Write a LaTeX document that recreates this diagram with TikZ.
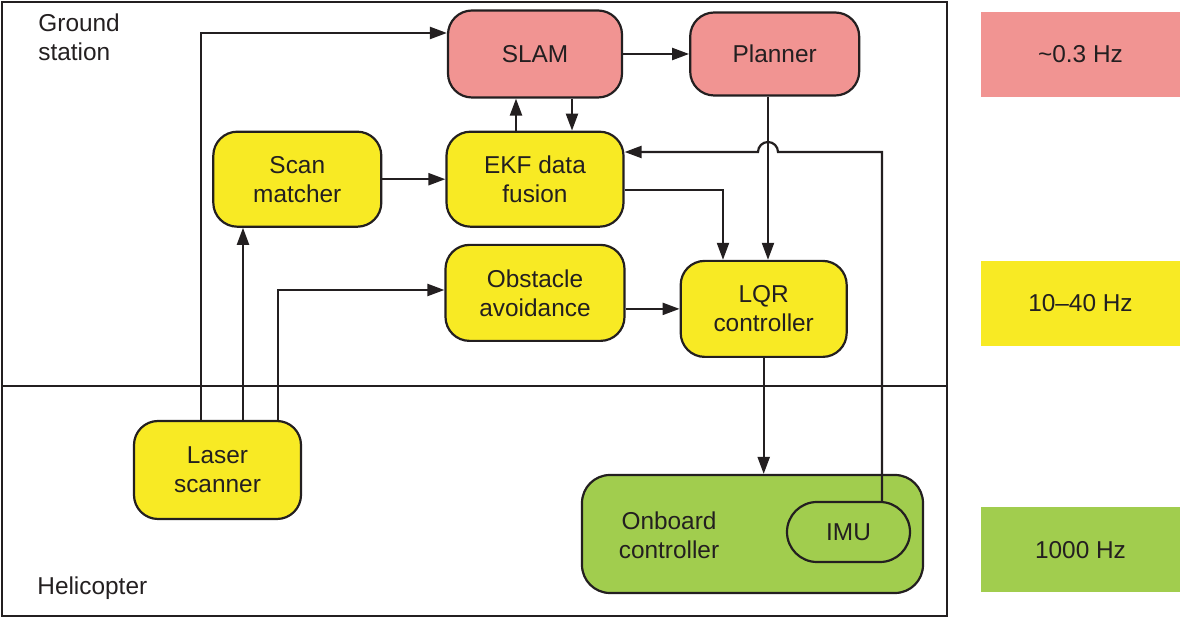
\documentclass[tikz,border=0pt]{standalone}
\usepackage{fontspec}
\setmainfont{Liberation Sans}
\usetikzlibrary{positioning, arrows.meta}

\definecolor{slowred}{RGB}{241,148,146}
\definecolor{midyellow}{RGB}{248,234,36}
\definecolor{fastgreen}{RGB}{161,205,78}
\definecolor{inkgray}{RGB}{35,31,32}

\begin{document}
\begin{tikzpicture}[
    x=0.5pt, y=-0.5pt,% one unit per pixel, y downwards
    color=inkgray,
    font=\fontsize{12.2}{14.5}\selectfont,
    node distance = 8pt and 31.5pt,% for distance between blocks
    >={Triangle[length=8.5pt,width=6pt]},
       blk/.style = {draw, line width=1.1pt, rounded corners=12pt, align=center, inner sep=0pt},% block style
      slow/.style = {blk, fill=slowred},
       mid/.style = {blk, fill=midyellow},
      fast/.style = {blk, fill=fastgreen},
      rate/.style = {fill=#1, minimum width=99.5pt, minimum height=42.5pt, inner sep=0pt},
      link/.style = {->, line width=1.1pt}
    ]
    \useasboundingbox (0,0) rectangle (1180,619);

    % ground station / helicopter frame
    \draw[line width=1.1pt] (2,2) rectangle (947,616);
    \draw[line width=1.1pt] (2,386) -- (947,386);
    \node (gs) [anchor=west, align=left, inner xsep=0pt] at (38,37) {Ground\\station};
    \node (heli) [anchor=west, inner xsep=0pt] at (37,588) {Helicopter};

    % blocks
    \node (slam) [slow, minimum width=87pt, minimum height=43.5pt] at (535,54) {SLAM};
    \node (planner) [slow, minimum width=84.5pt, minimum height=41.5pt, right=33pt of slam] {Planner};
    \node (ekf) [mid, minimum width=88.5pt, minimum height=47.5pt, below=16pt of slam] {EKF data\\fusion};
    \node (scan) [mid, minimum width=84pt, minimum height=47.5pt, left=of ekf] {Scan\\matcher};
    \node (obst) [mid, minimum width=89.5pt, minimum height=48pt, below=of ekf] {Obstacle\\avoidance};
    \node (lqr) [mid, minimum width=83pt, minimum height=48pt, right=27pt of obst, yshift=-8pt] {LQR\\controller};
    \node (laser) [mid, minimum width=83.5pt, minimum height=49pt] at (217.5,470) {Laser\\scanner};
    \node (onboard) [fast, rounded corners=14pt, minimum width=170.5pt, minimum height=59pt] at (752.5,534) {};
    \node (obtext) [align=center] at (669,535) {Onboard\\controller};
    \node (imu) [fast, rounded corners=15pt, minimum width=61.5pt, minimum height=30pt] at (848.5,532) {IMU};

    % update rates
    \node (r1) [rate=slowred] at (1080.5,54.5) {\textasciitilde0.3 Hz};
    \node (r2) [rate=midyellow] at (1080.5,303.5) {10--40 Hz};
    \node (r3) [rate=fastgreen] at (1080.5,550) {1000 Hz};

    % connections
    \draw[link] (201,0 |- laser.north) |- (slam.west |- 0,33);
    \draw[link] (243,0 |- laser.north) -- (243,0 |- scan.south);
    \draw[link] (278,0 |- laser.north) |- (obst.west |- 0,290);
    \draw[link] (scan.east) -- (scan.east -| ekf.west);
    \draw[link] (slam.east) -- (slam.east -| planner.west);
    \draw[link] (516,0 |- ekf.north) -- (516,0 |- slam.south);
    \draw[link] (572,0 |- slam.south) -- (572,0 |- ekf.north);
    \draw[link] (ekf.east |- 0,190) -| (723,0 |- lqr.north);
    \draw[link] (768,0 |- planner.south) -- (768,0 |- lqr.north);
    \draw[link] (882,0 |- imu.north) -- (882,152) -- (778,152)
        arc[start angle=0, end angle=180, radius=5pt] -- (ekf.east |- 0,152);
    \draw[link] (lqr.west -| obst.east) -- (lqr.west);
    \draw[link] (lqr.south) -- (lqr.south |- onboard.north);
\end{tikzpicture}
\end{document}
